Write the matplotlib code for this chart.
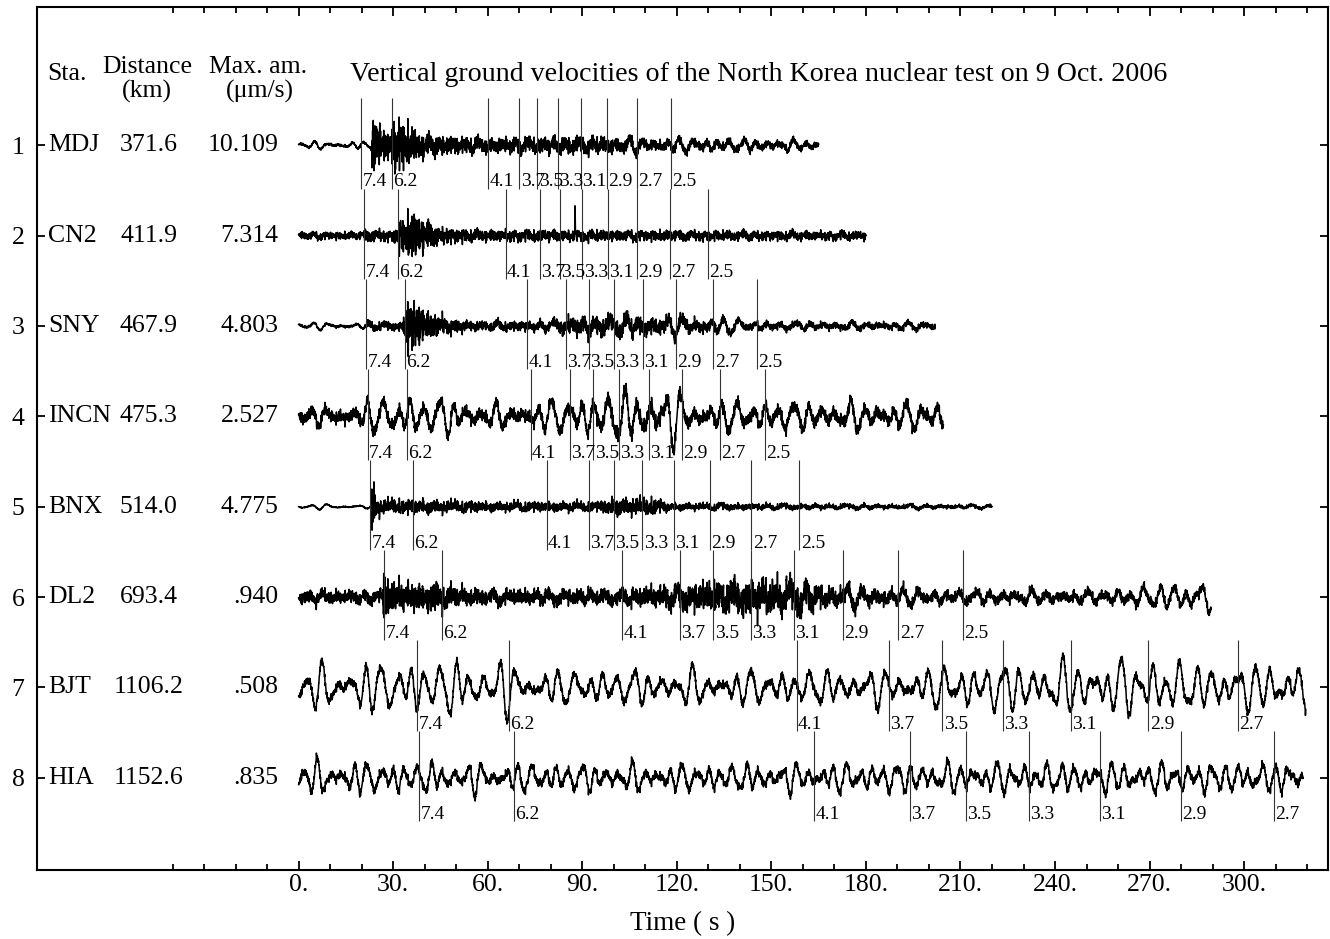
"""
# Vertical ground velocity record section, North Korea nuclear test, 9 Oct. 2006
"""

### Packages
import numpy as np
import matplotlib
matplotlib.use("Agg")
import matplotlib.pyplot as plt

### Data
stations = ["MDJ", "CN2", "SNY", "INCN", "BNX", "DL2", "BJT", "HIA"]
distances = [371.6, 411.9, 467.9, 475.3, 514.0, 693.4, 1106.2, 1152.6]
max_amps = ["10.109", "7.314", "4.803", "2.527", "4.775", ".940", ".508", ".835"]
# group velocities (km/s) of the phase markers
group_vels = [7.4, 6.2, 4.1, 3.7, 3.5, 3.3, 3.1, 2.9, 2.7, 2.5]
# time after origin at which each record starts (s)
window_start = [30.4, 34.8, 41.7, 42.3, 46.7, 66.5, 111.8, 117.5]
# length of each record (s)
window_end = [165.0, 180.0, 202.0, 204.6, 220.0, 289.5, 319.6, 318.7]
time_ticks = [0, 30, 60, 90, 120, 150, 180, 210, 240, 270, 300]

# envelopes of the short period part: (time s, amplitude in trace spacings)
MDJ_hf = [(0, 0.012), (23.0, 0.012), (23.5, 0.30), (26, 0.18), (29, 0.12), (30.5, 0.28),
          (34, 0.22), (38, 0.13), (45, 0.09), (60, 0.07), (88, 0.08), (95, 0.08), (110, 0.05), (165, 0.03)]
CN2_hf = [(0, 0.035), (20.5, 0.035), (21, 0.06), (30, 0.05), (32, 0.15), (36, 0.22), (40, 0.15),
          (45, 0.08), (55, 0.055), (100, 0.05), (180, 0.04)]
SNY_hf = [(0, 0.012), (21, 0.012), (21.5, 0.04), (33, 0.04), (34.5, 0.28), (37, 0.22), (42, 0.12),
          (48, 0.07), (55, 0.045), (80, 0.045), (85, 0.08), (100, 0.09), (120, 0.07), (140, 0.035), (202, 0.03)]
INCN_hf = [(0, 0.06), (90, 0.06), (100, 0.08), (115, 0.08), (125, 0.06), (204.6, 0.06)]
BNX_hf = [(0, 0.005), (23.0, 0.005), (23.3, 0.30), (24.5, 0.12), (26, 0.07), (45, 0.06), (60, 0.045),
          (95, 0.045), (100, 0.08), (112, 0.08), (118, 0.035), (160, 0.025), (220, 0.015)]
DL2_hf = [(0, 0.06), (26.5, 0.06), (27, 0.30), (28.5, 0.15), (40, 0.12), (43, 0.15), (50, 0.09),
          (60, 0.07), (100, 0.07), (115, 0.10), (130, 0.14), (145, 0.17), (160, 0.15), (168, 0.09),
          (200, 0.05), (289.5, 0.045)]
BJT_hf = [(0, 0.04), (319.6, 0.04)]
HIA_hf = [(0, 0.04), (318.7, 0.04)]

# envelopes of the long period part
MDJ_lf = [(0, 0.03), (22, 0.03), (40, 0.03), (90, 0.04), (110, 0.06), (140, 0.05), (165, 0.04)]
CN2_lf = [(0, 0.015), (180, 0.02)]
SNY_lf = [(0, 0.03), (20, 0.025), (60, 0.02), (95, 0.05), (105, 0.08), (135, 0.07), (150, 0.03), (202, 0.03)]
INCN_lf = [(0, 0.07), (20, 0.07), (22, 0.16), (50, 0.16), (55, 0.09), (75, 0.09), (80, 0.15),
           (100, 0.2), (117, 0.26), (125, 0.13), (204.6, 0.11)]
BNX_lf = [(0, 0.02), (220, 0.015)]
DL2_lf = [(0, 0.03), (100, 0.04), (140, 0.07), (170, 0.09), (200, 0.06), (250, 0.05), (268, 0.09),
          (280, 0.14), (289.5, 0.12)]
BJT_lf = [(0, 0.17), (20, 0.21), (40, 0.23), (65, 0.23), (75, 0.15), (195, 0.15), (210, 0.2),
          (270, 0.25), (290, 0.19), (319.6, 0.23)]
HIA_lf = [(0, 0.14), (40, 0.13), (120, 0.11), (200, 0.13), (318.7, 0.13)]

hf_envelopes = [MDJ_hf, CN2_hf, SNY_hf, INCN_hf, BNX_hf, DL2_hf, BJT_hf, HIA_hf]
lf_envelopes = [MDJ_lf, CN2_lf, SNY_lf, INCN_lf, BNX_lf, DL2_lf, BJT_lf, HIA_lf]
lf_periods = [4.0, 4.0, 4.5, 4.5, 5.0, 4.5, 4.7, 4.0]
# isolated spike on CN2 (trace, time s, amplitude)
spikes = [(1, 87.7, 0.33)]

### Functions
# Build one trace from its envelopes
def build_trace(k, t):
    hf_t, hf_a = zip(*hf_envelopes[k])
    lf_t, lf_a = zip(*lf_envelopes[k])
    hf_env = np.interp(t, hf_t, hf_a)
    lf_env = np.interp(t, lf_t, lf_a)
    hf = np.zeros_like(t)
    for j, f in enumerate([0.9, 1.35, 1.8, 2.45, 3.1, 3.9, 4.7, 5.6, 6.9, 8.3]):
        hf += np.sin(2 * np.pi * f * t + 2.399 * j + 1.1 * k)
    hf /= 4.4
    p = lf_periods[k]
    lf = np.zeros_like(t)
    for j, (m, w) in enumerate(zip([1.0, 1.31, 0.76, 1.93, 0.61], [1.0, 0.55, 0.45, 0.35, 0.3])):
        lf += w * np.sin(2 * np.pi * t / (m * p) + 1.7 * j + 0.7 * k)
    lf /= 1.5
    sig = hf_env * hf + lf_env * lf
    for kk, ts, a in spikes:
        if kk == k:
            sig += a * np.exp(-((t - ts) / 0.08) ** 2)
    return sig

### Plot
plt.rcParams["font.family"] = ["Liberation Serif", "DejaVu Serif"]
fig = plt.figure(figsize=(13.3, 9.39), dpi=100)
ax = fig.add_axes([37 / 1330, 1 - 870 / 939, (1328 - 37) / 1330, (870 - 7) / 939])
ax.set_xlim(-83, 326.6)
ax.set_ylim(9.02, -0.53)

for k in range(len(stations)):
    row = k + 1
    t = np.arange(0, window_end[k], 0.04)
    ax.plot(t, row - build_trace(k, t), color="black", lw=1.1)
    # phase markers
    for v in group_vels:
        tp = distances[k] / v - window_start[k]
        if tp > 320:
            continue
        ax.vlines(tp, row - 0.52, row + 0.48, color="#333333", lw=0.8)
        ax.text(tp + 0.4, row + 0.50, f"{v}", fontsize=14, ha="left", va="bottom")
    # station info
    ax.text(-79.4, row, stations[k], fontsize=18.5, ha="left", va="center")
    ax.text(-47.5, row, f"{distances[k]}", fontsize=18.5, ha="center", va="center")
    ax.text(-6.3, row, max_amps[k], fontsize=18.5, ha="right", va="center")

# headers and title
ax.text(-73.5, 0.21, "Sta.", fontsize=18.5, ha="center", va="center")
ax.text(-48.0, 0.13, "Distance", fontsize=18.5, ha="center", va="center")
ax.text(-48.0, 0.40, "(km)", fontsize=18.5, ha="center", va="center")
ax.text(-13.0, 0.13, "Max. am.", fontsize=18.5, ha="center", va="center")
ax.text(-12.4, 0.40, "(\u03bcm/s)", fontsize=18.5, ha="center", va="center")
ax.text(16.2, 0.22, "Vertical ground velocities of the North Korea nuclear test on 9 Oct. 2006",
        fontsize=20.2, ha="left", va="center")

# axes
ax.set_xticks(time_ticks)
ax.set_xticklabels([f"{v}." for v in time_ticks])
ax.set_xticks(np.arange(-40, 321, 10), minor=True)
ax.tick_params(axis="x", which="major", direction="in", top=True, length=6.5, width=1.3,
               labelsize=18.5, pad=3)
ax.tick_params(axis="x", which="minor", direction="in", top=True, length=4.3, width=1.3)
ax.set_yticks(range(1, 9))
ax.set_yticklabels([str(i) for i in range(1, 9)])
ax.tick_params(axis="y", direction="in", left=True, right=True, length=6, width=1.3,
               labelsize=18.5, pad=9)
for s in ax.spines.values():
    s.set_linewidth(1.5)
ax.set_xlabel("Time ( s )", fontsize=19.5, labelpad=11)

plt.savefig("out.png", format="png")
